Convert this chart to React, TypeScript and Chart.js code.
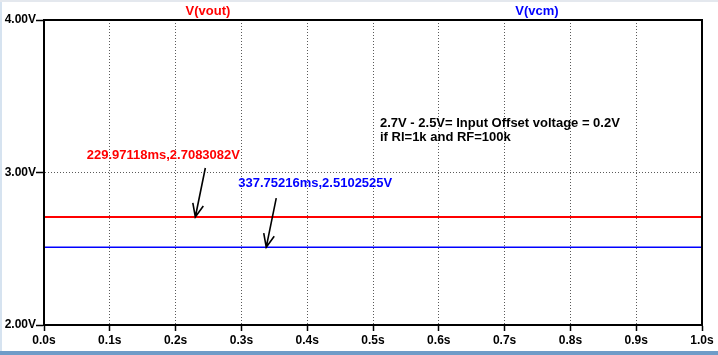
import React, { useEffect, useRef } from "react";
import { Chart, registerables } from "chart.js";

Chart.register(...registerables);

const timeRange = [0, 1];
const voutValues = [2.7083082, 2.7083082];
const vcmValues = [2.5102525, 2.5102525];
const seriesNames = ["V(vout)", "V(vcm)"];
const seriesColors = ["#ff0000", "#0000ff"];
const cursorPoints = [
  { x: 0.22997118, y: 2.7083082, label: "229.97118ms,2.7083082V" },
  { x: 0.33775216, y: 2.5102525, label: "337.75216ms,2.5102525V" },
];
const noteLines = ["2.7V - 2.5V= Input Offset voltage = 0.2V", "if Rl=1k and RF=100k"];

const FONT = '"Liberation Sans", Arial, sans-serif';

const decorPlugin = {
  id: "decor",
  beforeDraw(chart: any) {
    const { ctx, width, height } = chart;
    ctx.save();
    ctx.fillStyle = "#ffffff";
    ctx.fillRect(0, 0, width, height);
    ctx.fillStyle = "#d6e3f0";
    ctx.fillRect(0, 0, 2, height);
    ctx.fillStyle = "#e4e8ee";
    ctx.fillRect(0, 0, width, 2);
    ctx.fillStyle = "#6f9cc8";
    ctx.fillRect(0, height - 4, width, 4);
    ctx.restore();
  },
  afterDraw(chart: any) {
    const { ctx, chartArea } = chart;
    const xs = chart.scales.x;
    const ys = chart.scales.y;
    ctx.save();
    // frame
    ctx.strokeStyle = "#000";
    ctx.lineWidth = 2;
    ctx.strokeRect(chartArea.left, chartArea.top, chartArea.right - chartArea.left, chartArea.bottom - chartArea.top);

    // titles
    ctx.font = `bold 13px ${FONT}`;
    ctx.textAlign = "center";
    ctx.textBaseline = "middle";
    const titleX = [208, 537];
    seriesNames.forEach((n, i) => {
      ctx.fillStyle = seriesColors[i];
      ctx.fillText(n, titleX[i], 11);
    });

    // cursor labels and arrows
    const labelOffsets = [
      { dx: -32, dy: -62 },
      { dx: 49, dy: -64 },
    ];
    cursorPoints.forEach((p, i) => {
      const px = xs.getPixelForValue(p.x);
      const py = ys.getPixelForValue(p.y);
      ctx.fillStyle = seriesColors[i];
      ctx.font = `bold 13px ${FONT}`;
      ctx.textAlign = "center";
      ctx.textBaseline = "middle";
      ctx.fillText(p.label, px + labelOffsets[i].dx, py + labelOffsets[i].dy);
      // arrow
      ctx.strokeStyle = "#000";
      ctx.lineWidth = 1.6;
      ctx.beginPath();
      ctx.moveTo(px + 10, py - 49);
      ctx.lineTo(px, py);
      ctx.moveTo(px - 2.5, py - 14);
      ctx.lineTo(px, py);
      ctx.lineTo(px + 8, py - 11);
      ctx.stroke();
    });

    // note
    ctx.fillStyle = "#000";
    ctx.font = `bold 13px ${FONT}`;
    ctx.textAlign = "left";
    ctx.textBaseline = "middle";
    ctx.fillText(noteLines[0], 380, 123);
    ctx.fillText(noteLines[1], 380, 137);
    ctx.restore();
  },
};

export default function App() {
  const ref = useRef<HTMLCanvasElement | null>(null);
  useEffect(() => {
    if (!ref.current) return;
    const chart = new Chart(ref.current, {
      type: "line",
      data: {
        datasets: [
          {
            label: seriesNames[0],
            data: timeRange.map((t, i) => ({ x: t, y: voutValues[i] })),
            borderColor: seriesColors[0],
            borderWidth: 2,
            pointRadius: 0,
          },
          {
            label: seriesNames[1],
            data: timeRange.map((t, i) => ({ x: t, y: vcmValues[i] })),
            borderColor: seriesColors[1],
            borderWidth: 1.6,
            pointRadius: 0,
          },
        ],
      },
      options: {
        animation: false,
        responsive: false,
        maintainAspectRatio: false,
        devicePixelRatio: 1,
        layout: { padding: { top: 20, right: 16, left: 0, bottom: 0 } },
        plugins: { legend: { display: false }, tooltip: { enabled: false } },
        scales: {
          x: {
            type: "linear",
            min: 0,
            max: 1,
            afterFit(scale: any) {
              scale.height = 30;
            },
            ticks: {
              stepSize: 0.1,
              autoSkip: false,
              maxRotation: 0,
              padding: 2,
              color: "#000",
              font: { family: FONT, size: 12, weight: "bold" },
              callback: (v: any) => Number(v).toFixed(1) + "s",
            },
            grid: {
              color: "#5a5a5a",
              lineWidth: 1,
              tickColor: "#000",
              tickLength: 6,
              tickWidth: 1.5,
              tickBorderDash: [],
            },
            border: { color: "#000", width: 2, dash: [1, 2] },
          },
          y: {
            min: 2,
            max: 4,
            afterFit(scale: any) {
              scale.width = 44;
            },
            ticks: {
              stepSize: 1,
              padding: 0,
              color: "#000",
              font: { family: FONT, size: 12, weight: "bold" },
              callback: (v: any) => Number(v).toFixed(2) + "V",
            },
            grid: {
              color: "#5a5a5a",
              lineWidth: 1,
              tickColor: "#000",
              tickLength: 8,
              tickWidth: 1.5,
              tickBorderDash: [],
            },
            border: { color: "#000", width: 2, dash: [1, 2] },
          },
        },
      },
      plugins: [decorPlugin],
    } as any);
    return () => chart.destroy();
  }, []);
  return (
    <div style={{ position: "fixed", left: 0, top: 0, width: 718, height: 355, background: "#fff" }}>
      <canvas ref={ref} width={718} height={355} style={{ width: 718, height: 355, display: "block" }} />
    </div>
  );
}
